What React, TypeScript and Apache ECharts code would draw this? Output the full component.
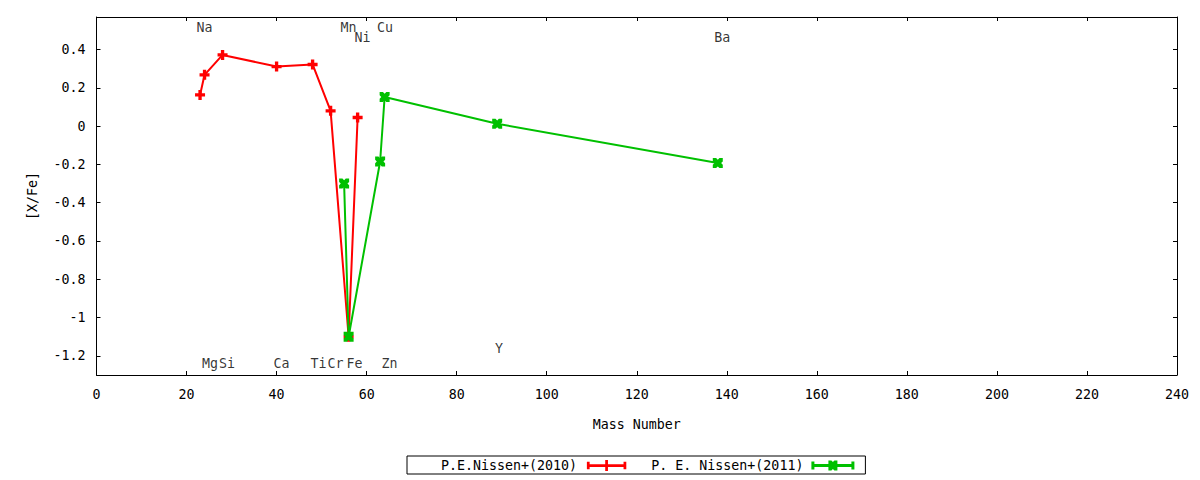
import React, { useEffect, useRef } from "react";
import * as echarts from "echarts";

// ---- data ----
const redName = "P.E.Nissen+(2010)";
const redMass = [23, 24, 28, 40, 48, 52, 56, 58];
const redValues = [0.163, 0.268, 0.372, 0.311, 0.322, 0.08, -1.1, 0.045];

const greenName = "P. E. Nissen+(2011)";
const greenMass = [55, 56, 63, 64, 89, 138];
const greenValues = [-0.3, -1.1, -0.185, 0.152, 0.012, -0.193];

const elementNames = ["Na", "Mn", "Ni", "Cu", "Ba", "Mg", "Si", "Ca", "Ti", "Cr", "Fe", "Zn", "Y"];
const elementLabelX = [24, 56, 59.1, 64.1, 139, 25.2, 29, 41.1, 49.3, 53.1, 57.3, 65.1, 89.4];
const elementLabelY = [0.517, 0.517, 0.464, 0.517, 0.464, -1.238, -1.238, -1.238, -1.238, -1.238, -1.238, -1.238, -1.163];

const yTickValues = [-1.2, -1, -0.8, -0.6, -0.4, -0.2, 0, 0.2, 0.4];
const xMin = 0;
const xMax = 240;
const xStep = 20;
const yMin = -1.3;
const yMax = 0.57;

const FONT = "DejaVu Sans Mono";
const FS = 13.3;

const plusPath = "path://M3,0h3v3h3v3h-3v3h-3v-3h-3v-3h3z";
const crossPath =
  "path://M0,0h3l1.5,1.5l1.5,-1.5h3v3l-1.5,1.5l1.5,1.5v3h-3l-1.5,-1.5l-1.5,1.5h-3v-3l1.5,-1.5l-1.5,-1.5z";
const redLegendIcon =
  "path://M0,2h3v8h-3z M40,2h3v8h-3z M0,4.5h43v3h-43z M20,0h3v4.5h-3z M20,7.5h3v4.5h-3z M18,4.5h7v3h-7z";
const greenLegendIcon =
  "path://M0,2h3v8h-3z M40,2h3v8h-3z M0,4.5h43v3h-43z M17,1h3l1.5,1.5l1.5,-1.5h3v10h-3l-1.5,-1.5l-1.5,1.5h-3z";

export default function App() {
  const ref = useRef<HTMLDivElement>(null);
  useEffect(() => {
    document.body.style.margin = "0";
    const chart = echarts.init(ref.current!, null, { renderer: "svg" });
    const line = { show: true, onZero: false, lineStyle: { color: "#000", width: 1 } };
    const tickX = { show: true, inside: true, length: 4, lineStyle: { color: "#000" } };
    const tickY = { ...tickX, customValues: yTickValues };
    const txt = { fontFamily: FONT, fontSize: FS, color: "#000" };
    const fmt = (v: number) => String(Math.round(v * 10) / 10);
    chart.setOption({
      animation: false,
      backgroundColor: "#fff",
      textStyle: { fontFamily: FONT },
      grid: { left: 96.5, top: 17, right: 23, bottom: 105, containLabel: false },
      legend: {
        left: 407,
        top: 456,
        orient: "horizontal",
        align: "right",
        borderColor: "#000",
        borderWidth: 1,
        borderRadius: 0,
        padding: [3, 11, 2, 34],
        itemGap: 25,
        itemWidth: 43,
        itemHeight: 11,
        textStyle: { ...txt, padding: [0, 3, 0, 0] },
        data: [
          { name: redName, icon: redLegendIcon },
          { name: greenName, icon: greenLegendIcon },
        ],
      },
      xAxis: [
        {
          type: "value",
          min: xMin,
          max: xMax,
          interval: xStep,
          position: "bottom",
          name: "Mass Number",
          nameLocation: "middle",
          nameGap: 43,
          nameTextStyle: txt,
          axisLine: line,
          axisTick: tickX,
          splitLine: { show: false },
          axisLabel: { ...txt, margin: 13 },
        },
        {
          type: "value",
          min: xMin,
          max: xMax,
          interval: xStep,
          position: "top",
          axisLine: line,
          axisTick: tickX,
          splitLine: { show: false },
          axisLabel: { show: false },
        },
      ],
      yAxis: [
        {
          type: "value",
          min: yMin,
          max: yMax,
          position: "left",
          name: "[X/Fe]",
          nameLocation: "middle",
          nameGap: 58,
          nameRotate: 90,
          nameTextStyle: txt,
          axisLine: line,
          axisTick: tickY,
          splitLine: { show: false },
          axisLabel: { ...txt, margin: 11, customValues: yTickValues, formatter: fmt },
        },
        {
          type: "value",
          min: yMin,
          max: yMax,
          position: "right",
          axisLine: line,
          axisTick: tickY,
          splitLine: { show: false },
          axisLabel: { show: false, customValues: yTickValues },
        },
      ],
      series: [
        {
          name: redName,
          type: "line",
          xAxisIndex: 0,
          yAxisIndex: 0,
          data: redMass.map((m, i) => [m, redValues[i]]),
          color: "#ff0000",
          lineStyle: { color: "#ff0000", width: 2 },
          itemStyle: { color: "#ff0000" },
          symbol: plusPath,
          symbolSize: 10,
          showAllSymbol: true,
          z: 2,
        },
        {
          name: greenName,
          type: "line",
          xAxisIndex: 0,
          yAxisIndex: 0,
          data: greenMass.map((m, i) => [m, greenValues[i]]),
          color: "#00c000",
          lineStyle: { color: "#00c000", width: 2 },
          itemStyle: { color: "#00c000" },
          symbol: crossPath,
          symbolSize: 10,
          showAllSymbol: true,
          z: 3,
        },
        {
          name: "labels",
          type: "scatter",
          xAxisIndex: 0,
          yAxisIndex: 0,
          symbolSize: 0,
          silent: true,
          data: elementNames.map((n, i) => ({ value: [elementLabelX[i], elementLabelY[i]], name: n })),
          label: {
            show: true,
            position: "inside",
            formatter: (p: any) => p.name,
            ...txt,
          },
          z: 4,
        },
      ],
    });
    return () => chart.dispose();
  }, []);
  return <div ref={ref} style={{ width: 1200, height: 480 }} />;
}
